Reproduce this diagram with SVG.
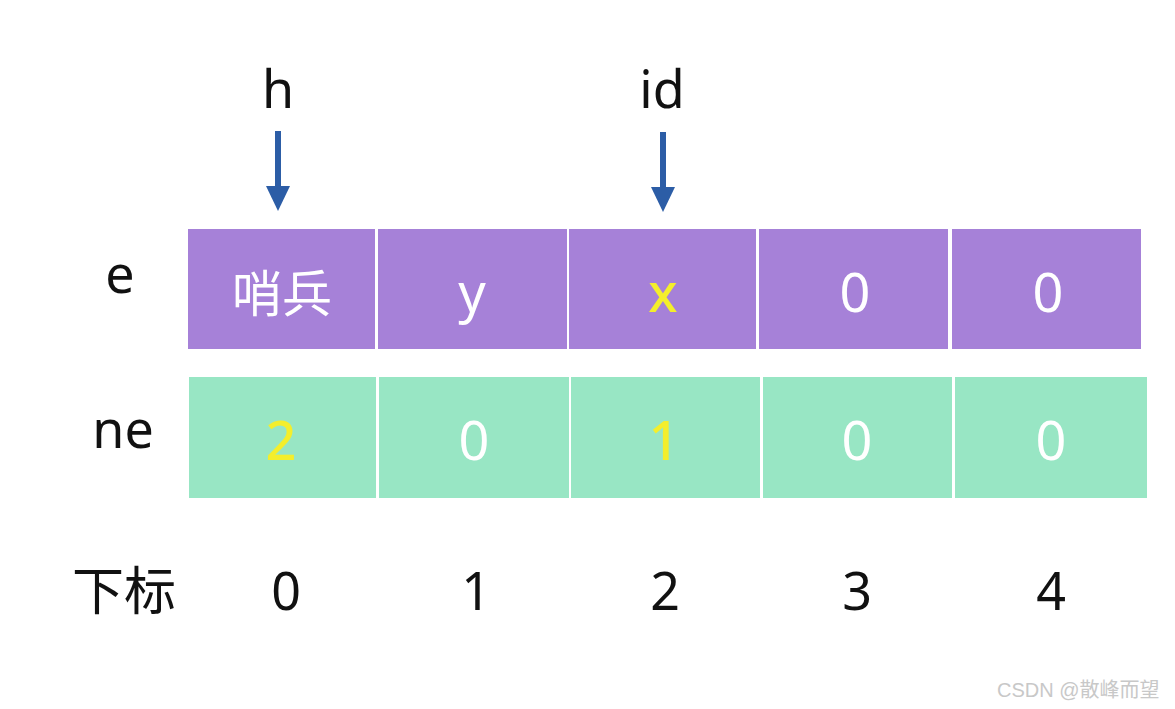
<svg xmlns="http://www.w3.org/2000/svg" width="1175" height="709" viewBox="0 0 1175 709">
<defs>
<style>
.t{font-family:"Noto Sans","Noto Sans CJK SC",sans-serif;text-anchor:middle}
.lbl{font-size:52px;fill:#111}
.cell{font-size:54px;fill:#ffffff}
.hl{fill:#f4ee2c;font-weight:500}
.pu{fill:#a681d8}
.gr{fill:#98e6c4}
.wm{font-family:"Liberation Sans","Noto Sans CJK SC",sans-serif;font-size:20px;fill:#c8c8c8}
</style>
</defs>
<rect width="1175" height="709" fill="#ffffff"/>
<g id="labels">
<text class="t lbl" x="278" y="108">h</text>
<text class="t lbl" x="662" y="108">id</text>
<text class="t lbl" x="120" y="293">e</text>
<text class="t lbl" x="123" y="448">ne</text>
<text class="t lbl" x="124" y="610">下标</text>
</g>
<g id="connectors">
<line x1="278" y1="131" x2="278" y2="186" stroke="#2c5da6" stroke-width="6"/>
<path d="M266,186 L290,186 L278,211 Z" fill="#2c5da6"/>
<line x1="663" y1="132" x2="663" y2="187" stroke="#2c5da6" stroke-width="6"/>
<path d="M651,187 L675,187 L663,212 Z" fill="#2c5da6"/>
</g>
<g id="e0"><rect class="pu" x="188" y="229" width="187" height="120"/><text class="t cell" x="282" y="312" style="font-size:50px">哨兵</text></g>
<g id="e1"><rect class="pu" x="378" y="229" width="189" height="120"/><text class="t cell" x="472" y="312">y</text></g>
<g id="e2"><rect class="pu" x="569" y="229" width="187" height="120"/><text class="t cell hl" x="663" y="312">x</text></g>
<g id="e3"><rect class="pu" x="759" y="229" width="189" height="120"/><text class="t cell" x="855" y="312">0</text></g>
<g id="e4"><rect class="pu" x="952" y="229" width="189" height="120"/><text class="t cell" x="1048" y="312">0</text></g>
<g id="ne0"><rect class="gr" x="189" y="377" width="187" height="121"/><text class="t cell hl" x="281" y="460">2</text></g>
<g id="ne1"><rect class="gr" x="379" y="377" width="190" height="121"/><text class="t cell" x="474" y="460">0</text></g>
<g id="ne2"><rect class="gr" x="571" y="377" width="189" height="121"/><text class="t cell hl" x="664" y="460">1</text></g>
<g id="ne3"><rect class="gr" x="763" y="377" width="189" height="121"/><text class="t cell" x="857" y="460">0</text></g>
<g id="ne4"><rect class="gr" x="955" y="377" width="192" height="121"/><text class="t cell" x="1051" y="460">0</text></g>
<g id="index">
<text class="t lbl" x="286" y="610">0</text>
<text class="t lbl" x="476" y="610">1</text>
<text class="t lbl" x="665" y="610">2</text>
<text class="t lbl" x="857" y="610">3</text>
<text class="t lbl" x="1051" y="610">4</text>
</g>
<text class="wm" x="997" y="697">CSDN @散峰而望</text>
</svg>
